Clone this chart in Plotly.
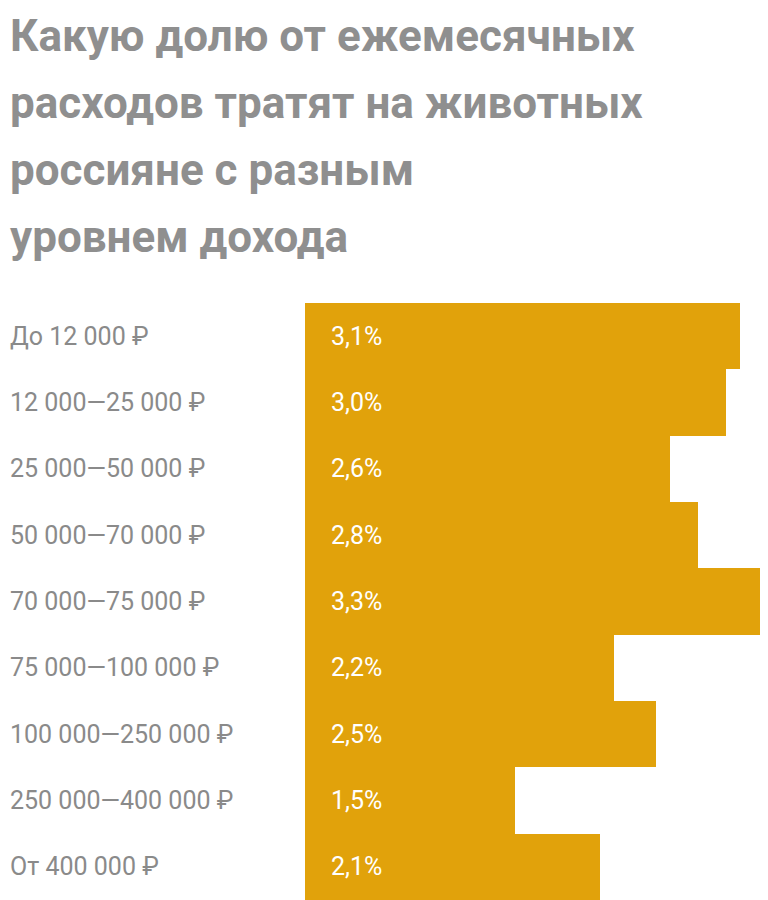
import plotly.graph_objects as go

categories = ["До 12 000 ₽", "12 000—25 000 ₽", "25 000—50 000 ₽", "50 000—70 000 ₽",
              "70 000—75 000 ₽", "75 000—100 000 ₽", "100 000—250 000 ₽",
              "250 000—400 000 ₽", "От 400 000 ₽"]
values = [3.1, 3.0, 2.6, 2.8, 3.3, 2.2, 2.5, 1.5, 2.1]
value_labels = ["3,1%", "3,0%", "2,6%", "2,8%", "3,3%", "2,2%", "2,5%", "1,5%", "2,1%"]
title_lines = ["Какую долю от ежемесячных", "расходов тратят на животных",
               "россияне с разным", "уровнем дохода"]

fig = go.Figure(go.Bar(
    x=values, y=categories, orientation="h",
    marker=dict(color="#E1A20B", line=dict(width=0)),
    hoverinfo="skip",
))

for c, v in zip(categories, value_labels):
    fig.add_annotation(x=0, xref="paper", xshift=-297, y=c, yref="y",
                       text=c, showarrow=False, xanchor="left",
                       font=dict(size=25, color="#8a8a8a", family="Roboto"))
    fig.add_annotation(x=0, xref="x", xshift=24, y=c, yref="y",
                       text=v, showarrow=False, xanchor="left",
                       font=dict(size=25, color="white", family="Roboto"))

for i, line in enumerate(title_lines):
    fig.add_annotation(
        x=0, xref="paper", xshift=-297, y=1, yref="paper", yshift=295 - 67 * i,
        text="<b>" + line + "</b>", showarrow=False, xanchor="left", yanchor="top",
        font=dict(size=44, color="#8f8f8f", family="Roboto"),
    )

fig.update_layout(
    width=760, height=892,
    margin=dict(l=297, r=0, t=295, b=0),
    plot_bgcolor="white", paper_bgcolor="white",
    bargap=0, showlegend=False,
    xaxis=dict(range=[0, 3.3], visible=False, fixedrange=True),
    yaxis=dict(autorange="reversed", visible=False, fixedrange=True),
)
fig.write_html("out.html")
